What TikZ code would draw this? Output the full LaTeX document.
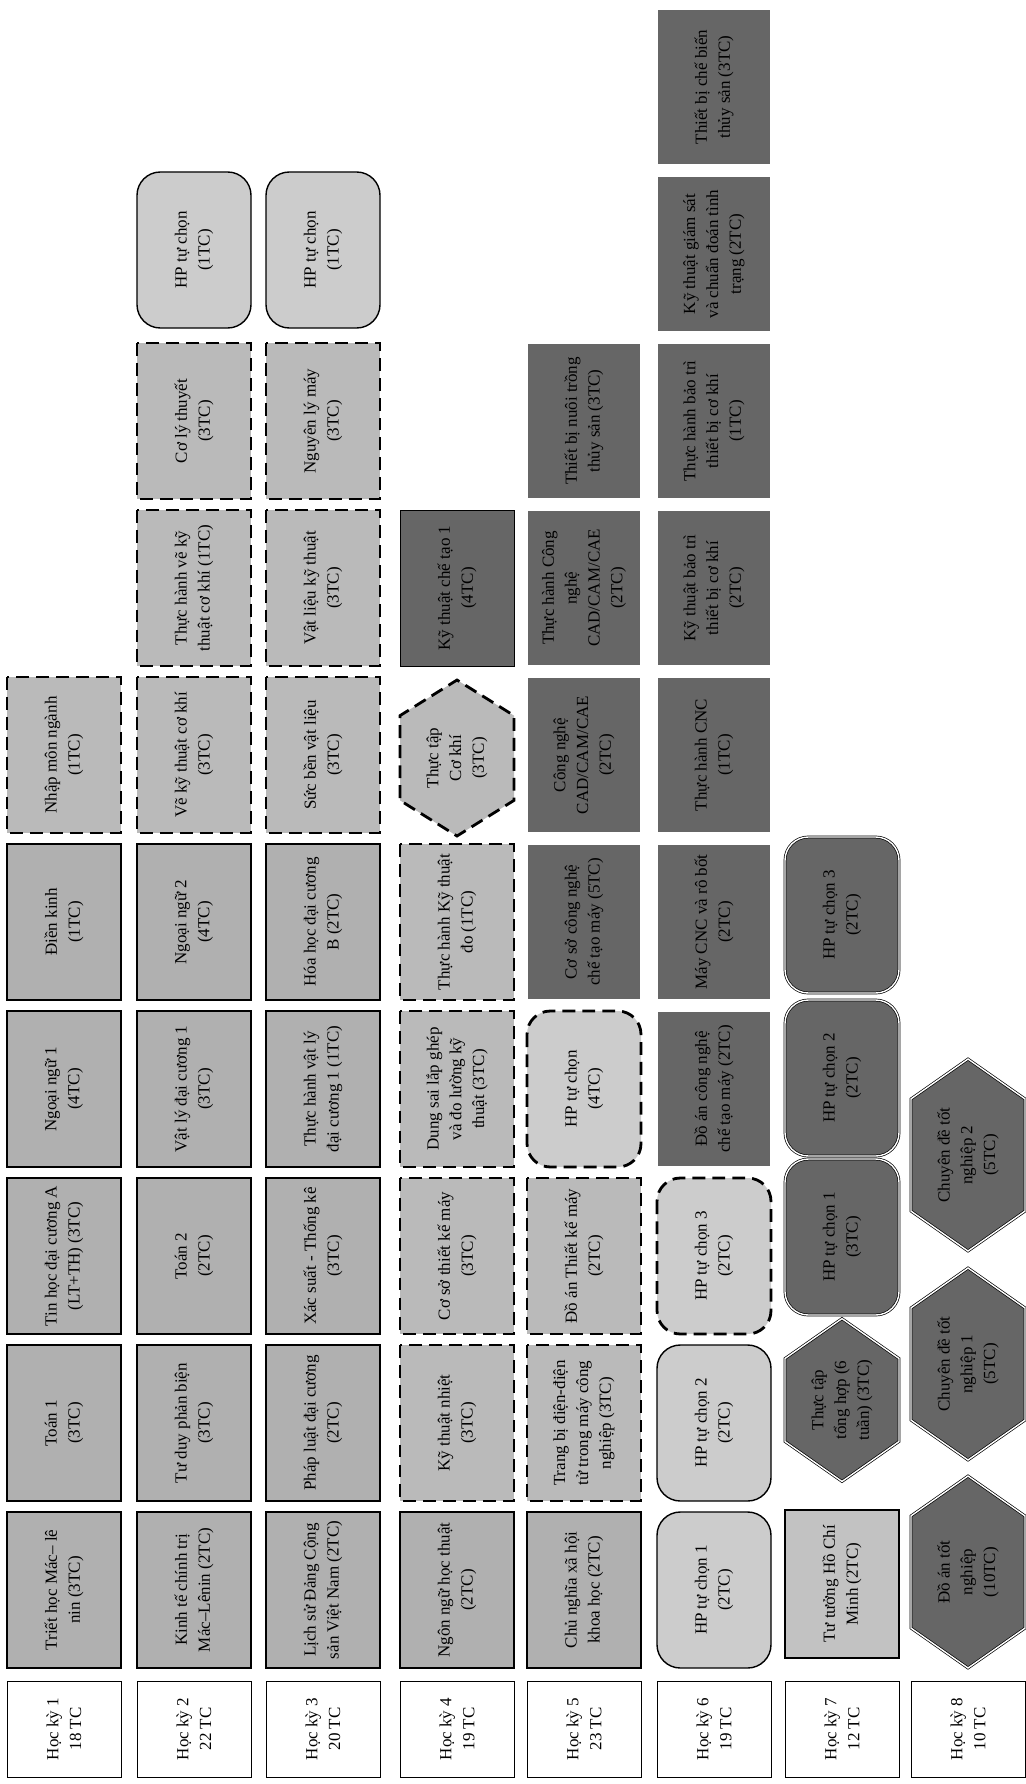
\documentclass[tikz,border=0pt]{standalone}
\usepackage{fontspec}
\setmainfont{Liberation Serif}
\usetikzlibrary{shapes.symbols}
\definecolor{lightcell}{gray}{0.69}
\definecolor{corecell}{gray}{0.73}
\definecolor{optcell}{gray}{0.80}
\definecolor{palecell}{gray}{0.76}
\definecolor{darkcell}{gray}{0.40}
\begin{document}
\begin{tikzpicture}[x=0.3mm,y=-0.3mm,
  every node/.style={rotate=90,align=center,inner sep=1pt,font=\fontsize{14.5}{19.5}\selectfont},
  semester/.style={draw,line width=0.8pt,fill=white,minimum width=28.8mm,minimum height=34.2mm},
  course/.style={draw,line width=1.2pt,fill=lightcell,minimum width=46.8mm,minimum height=34.2mm},
  corecourse/.style={course,fill=corecell,line width=2.4pt,dash pattern=on 11pt off 6pt},
  optcourse/.style={course,fill=optcell,rounded corners=7mm},
  optcore/.style={corecourse,fill=optcell,rounded corners=7mm},
  toolcourse/.style={course,fill=darkcell,line width=0.8pt},
  majorcourse/.style={course,fill=darkcell,line width=0.6pt,double,double distance=1.2pt},
  majoropt/.style={majorcourse,rounded corners=7mm},
  hexcourse/.style={majorcourse,shape=signal,signal to=east and west,signal pointer angle=110,minimum width=57.6mm},
  corehex/.style={corecourse,shape=signal,signal to=east and west,signal pointer angle=116}]
  \useasboundingbox (0,0) rectangle (1025,1784);

  \foreach \i/\x/\tc in {1/64/18,2/194/22,3/323/20,4/457/19,5/584/23,6/714/19,7/842/12,8/968/10}
    \node[semester] (hk\i) at (\x,1729) {Học kỳ \i\\\tc{} TC};

  % hoc ky 1
  \node[course] (s11) at (64,1590) {Triết học Mác– lê\\nin (3TC)};
  \node[course] (s12) at (64,1423) {Toán 1\\(3TC)};
  \node[course] (s13) at (64,1256) {Tin học đại cương A\\(LT+TH) (3TC)};
  \node[course] (s14) at (64,1089) {Ngoại ngữ 1\\(4TC)};
  \node[course] (s15) at (64,922) {Điền kinh\\(1TC)};
  \node[corecourse] (s16) at (64,755) {Nhập môn ngành\\(1TC)};

  % hoc ky 2
  \node[course] (s21) at (194,1590) {Kinh tế chính trị\\Mác–Lênin (2TC)};
  \node[course] (s22) at (194,1423) {Tư duy phản biện\\(3TC)};
  \node[course] (s23) at (194,1256) {Toán 2\\(2TC)};
  \node[course] (s24) at (194,1089) {Vật lý đại cương 1\\(3TC)};
  \node[course] (s25) at (194,922) {Ngoại ngữ 2\\(4TC)};
  \node[corecourse] (s26) at (194,755) {Vẽ kỹ thuật cơ khí\\(3TC)};
  \node[corecourse] (s27) at (194,588) {Thực hành vẽ kỹ\\thuật cơ khí (1TC)};
  \node[corecourse] (s28) at (194,421) {Cơ lý thuyết\\(3TC)};
  \node[optcourse] (s29) at (194,250) {HP tự chọn\\(1TC)};

  % hoc ky 3
  \node[course] (s31) at (323,1590) {Lịch sử Đảng Cộng\\sản Việt Nam (2TC)};
  \node[course] (s32) at (323,1423) {Pháp luật đại cương\\(2TC)};
  \node[course] (s33) at (323,1256) {Xác suất - Thống kê\\(3TC)};
  \node[course] (s34) at (323,1089) {Thực hành vật lý\\đại cương 1 (1TC)};
  \node[course] (s35) at (323,922) {Hóa học đại cương\\B (2TC)};
  \node[corecourse] (s36) at (323,755) {Sức bền vật liệu\\(3TC)};
  \node[corecourse] (s37) at (323,588) {Vật liệu kỹ thuật\\(3TC)};
  \node[corecourse] (s38) at (323,421) {Nguyên lý máy\\(3TC)};
  \node[optcourse] (s39) at (323,250) {HP tự chọn\\(1TC)};

  % hoc ky 4
  \node[course] (s41) at (457,1590) {Ngôn ngữ học thuật\\(2TC)};
  \node[corecourse] (s42) at (457,1423) {Kỹ thuật nhiệt\\(3TC)};
  \node[corecourse] (s43) at (457,1256) {Cơ sở thiết kế máy\\(3TC)};
  \node[corecourse] (s44) at (457,1089) {Dung sai lắp ghép\\và đo lường kỹ\\thuật (3TC)};
  \node[corecourse] (s45) at (457,922) {Thực hành Kỹ thuật\\đo (1TC)};
  \node[corehex] (s46) at (457,758) {Thực tập\\Cơ khí\\(3TC)};
  \node[toolcourse] (s47) at (457,588) {Kỹ thuật chế tạo 1\\(4TC)};

  % hoc ky 5
  \node[course] (s51) at (584,1590) {Chủ nghĩa xã hội\\khoa học (2TC)};
  \node[corecourse] (s52) at (584,1423) {Trang bị điện-điện\\tử trong máy công\\nghiệp (3TC)};
  \node[corecourse] (s53) at (584,1256) {Đồ án Thiết kế máy\\(2TC)};
  \node[optcore] (s54) at (584,1089) {HP tự chọn\\(4TC)};
  \node[majorcourse] (s55) at (584,922) {Cơ sở công nghệ\\chế tạo máy (5TC)};
  \node[majorcourse] (s56) at (584,755) {Công nghệ\\CAD/CAM/CAE\\(2TC)};
  \node[majorcourse] (s57) at (584,588) {Thực hành Công\\nghệ\\CAD/CAM/CAE\\(2TC)};
  \node[majorcourse] (s58) at (584,421) {Thiết bị nuôi trồng\\thủy sản (3TC)};

  % hoc ky 6
  \node[optcourse] (s61) at (714,1590) {HP tự chọn 1\\(2TC)};
  \node[optcourse] (s62) at (714,1423) {HP tự chọn 2\\(2TC)};
  \node[optcore] (s63) at (714,1256) {HP tự chọn 3\\(2TC)};
  \node[majorcourse] (s64) at (714,1089) {Đồ án công nghệ\\chế tạo máy (2TC)};
  \node[majorcourse] (s65) at (714,922) {Máy CNC và rô bốt\\(2TC)};
  \node[majorcourse] (s66) at (714,755) {Thực hành CNC\\(1TC)};
  \node[majorcourse] (s67) at (714,588) {Kỹ thuật bảo trì\\thiết bị cơ khí\\(2TC)};
  \node[majorcourse] (s68) at (714,421) {Thực hành bảo trì\\thiết bị cơ khí\\(1TC)};
  \node[majorcourse] (s69) at (714,254) {Kỹ thuật giám sát\\và chuẩn đoán tình\\trạng (2TC)};
  \node[majorcourse] (s610) at (714,87) {Thiết bị chế biến\\thủy sản (3TC)};

  % hoc ky 7
  \node[course,fill=palecell,minimum width=44.4mm] (s71) at (842,1584) {Tư tưởng Hồ Chí\\Minh (2TC)};
  \node[hexcourse,minimum width=48mm] (s72) at (842,1400) {Thực tập\\tổng hợp (6\\tuần) (3TC)};
  \node[majoropt] (s73) at (842,1237) {HP tự chọn 1\\(3TC)};
  \node[majoropt] (s74) at (842,1078) {HP tự chọn 2\\(2TC)};
  \node[majoropt] (s75) at (842,915) {HP tự chọn 3\\(2TC)};

  % hoc ky 8
  \node[hexcourse] (s81) at (968,1572) {Đồ án tốt\\nghiệp\\(10TC)};
  \node[hexcourse] (s82) at (968,1364) {Chuyên đề tốt\\nghiệp 1\\(5TC)};
  \node[hexcourse] (s83) at (968,1155) {Chuyên đề tốt\\nghiệp 2\\(5TC)};
\end{tikzpicture}
\end{document}
